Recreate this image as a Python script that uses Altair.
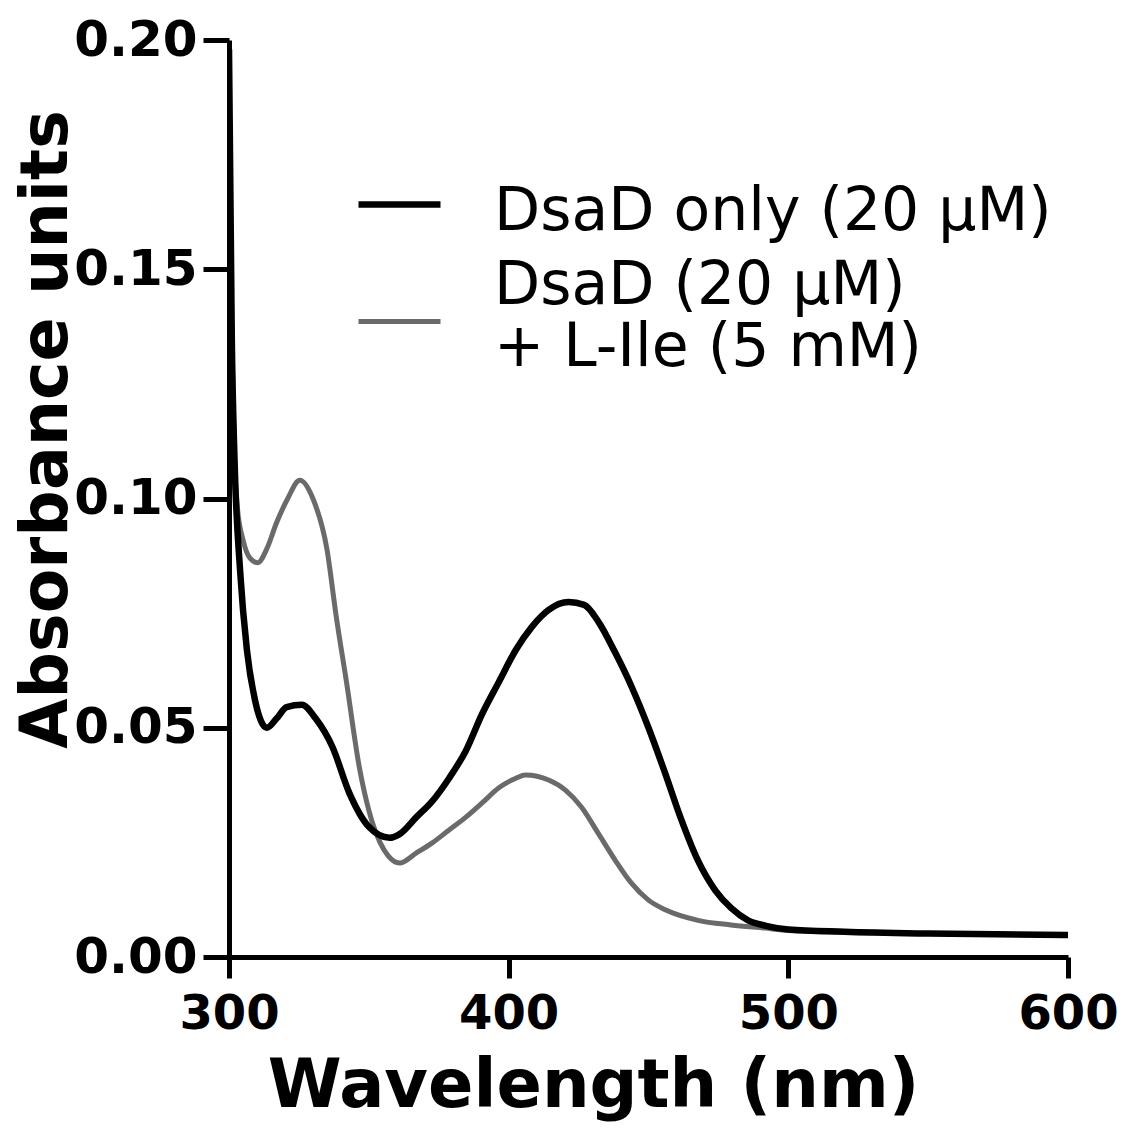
import altair as alt
import pandas as pd

S1 = "DsaD only (20 μM)"
S2 = "DsaD (20 μM)|+ L-Ile (5 mM)"

wl_only = [300, 301, 302, 304, 306.4, 309.3, 313.5, 317, 320.6, 326, 331, 337, 343, 350, 357.4,
           361, 367, 372.7, 378.7, 384.7, 390.5, 396.5, 402.6, 408.3, 414.3, 421.4, 427, 432, 438,
           444, 450, 456, 461.7, 467.7, 473.8, 479.5, 485.6, 492, 500, 520, 550, 600]
abs_only = [0.198, 0.135, 0.108, 0.084, 0.067, 0.056, 0.050, 0.052, 0.0545, 0.055, 0.052, 0.0458,
            0.0358, 0.0284, 0.026, 0.0268, 0.0305, 0.034, 0.039, 0.045, 0.053, 0.060, 0.067, 0.072,
            0.0757, 0.0774, 0.0768, 0.0732, 0.0665, 0.0589, 0.050, 0.040, 0.030, 0.021, 0.0146,
            0.0107, 0.008, 0.0068, 0.006, 0.0055, 0.0051, 0.0048]

wl_ile = [300, 301, 302, 303, 305, 307.5, 310.3, 313.5, 317, 321, 325.3, 330, 335, 338.4, 342,
          346.6, 350, 354, 357, 361, 367, 372.7, 378.7, 384.7, 390.5, 396.5, 402.6, 406, 414.3,
          420.3, 426, 432, 438, 443.9, 450, 456, 467.7, 479.5, 491.5, 500, 550, 600]
abs_ile = [0.175, 0.135, 0.108, 0.098, 0.091, 0.087, 0.086, 0.089, 0.0947, 0.100, 0.104, 0.100,
           0.089, 0.074, 0.060, 0.0414, 0.032, 0.025, 0.022, 0.0205, 0.0227, 0.0249, 0.0277, 0.0305,
           0.0336, 0.0369, 0.039, 0.0397, 0.0386, 0.0364, 0.0327, 0.027, 0.0212, 0.0161, 0.0124,
           0.0103, 0.008, 0.007, 0.0063, 0.0058, 0.0051, 0.0048]

x_ticks = [300, 400, 500, 600]
y_ticks = [0.0, 0.05, 0.10, 0.15, 0.20]

df = pd.concat([
    pd.DataFrame({"wl": wl_ile, "abs": abs_ile, "series": S2, "ord": 0}),
    pd.DataFrame({"wl": wl_only, "abs": abs_only, "series": S1, "ord": 1}),
])

legend = alt.Legend(title=None, orient="none", legendX=126, legendY=127,
                    symbolSize=6724, symbolStrokeWidth=6, symbolOpacity=1,
                    labelFont="DejaVu Sans", labelFontSize=60, labelOffset=50,
                    labelLimit=1000, rowPadding=0, padding=0,
                    labelExpr="split(datum.label, '|')")

chart = alt.Chart(df).mark_line(
    interpolate="monotone", clip=True,
    point=alt.OverlayMarkDef(filled=False, opacity=0, size=1),
).encode(
    x=alt.X("wl:Q", scale=alt.Scale(domain=[300, 600], nice=False),
            axis=alt.Axis(values=x_ticks, title="Wavelength (nm)", labelPadding=12,
                          labelFlush=False, labelFontSize=48, titleX=364, titleY=149,
                          titleBaseline="alphabetic", titleFontSize=67, tickSize=21)),
    y=alt.Y("abs:Q", scale=alt.Scale(domain=[0, 0.2], nice=False),
            axis=alt.Axis(values=y_ticks, format=".2f", title="Absorbance units",
                          labelPadding=6, labelFlush=False, titleX=-163, titleY=389,
                          titleAngle=-90, titleBaseline="alphabetic", titleAlign="center",
                          titleFontSize=65, tickSize=26)),
    color=alt.Color("series:N",
                    scale=alt.Scale(domain=[S1, S2], range=["#000000", "#6a6a6a"]),
                    legend=legend),
    shape=alt.Shape("series:N",
                    scale=alt.Scale(domain=[S1, S2], range=["M-1,-0.17H1", "M-1,0.88H1"]),
                    legend=legend),
    strokeWidth=alt.StrokeWidth("series:N",
                                scale=alt.Scale(domain=[S1, S2], range=[6.5, 5]),
                                legend=None),
    order=alt.Order("ord:Q"),
).properties(
    width=839, height=917,
    autosize=alt.AutoSizeParams(type="none"),
    padding={"left": 221, "top": 32, "right": 50, "bottom": 165},
).configure_view(stroke=None).configure_axis(
    grid=False, domainColor="black", domainWidth=5, tickColor="black", tickWidth=5,
    labelFont="DejaVu Sans", labelFontWeight="bold", labelFontSize=50, labelColor="black",
    titleFont="DejaVu Sans", titleFontWeight="bold", titleColor="black",
)

chart.save("out.html", embed_options={"renderer": "svg", "actions": False})
